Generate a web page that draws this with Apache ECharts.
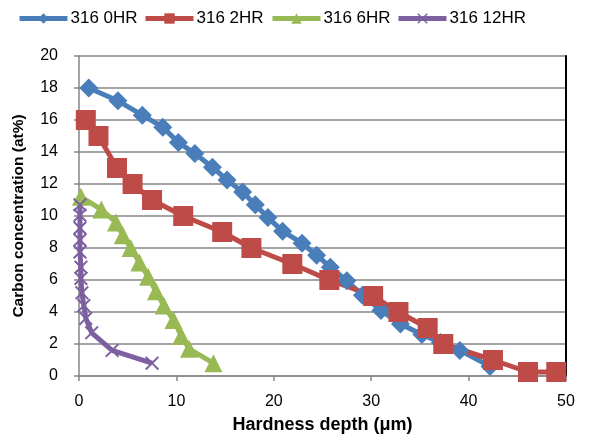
<!DOCTYPE html>
<html>
<head>
<meta charset="utf-8">
<script src="https://cdn.jsdelivr.net/npm/echarts@6/dist/echarts.min.js"></script>
<style>
  html, body { margin: 0; padding: 0; background: #ffffff; }
  #chart { width: 592px; height: 437px; }
</style>
</head>
<body>
<div id="chart"></div>
<script>
// Carbon concentration profiles of 316 steel after different treatment times
const seriesNames = ['316 0HR', '316 2HR', '316 6HR', '316 12HR'];

const depth0 = [1.0, 4.0, 6.5, 8.6, 10.2, 11.9, 13.7, 15.2, 16.8, 18.1, 19.4, 20.9, 22.9, 24.4, 25.8, 27.5, 29.1, 31.0, 33.0, 35.2, 37.1, 39.1, 42.2];
const carbon0 = [18.0, 17.2, 16.3, 15.55, 14.6, 13.9, 13.05, 12.25, 11.5, 10.7, 9.9, 9.05, 8.3, 7.55, 6.8, 5.95, 5.05, 4.1, 3.25, 2.6, 2.1, 1.6, 0.6];

const depth2 = [0.7, 2.0, 3.9, 5.5, 7.5, 10.7, 14.7, 17.7, 21.9, 25.7, 30.2, 32.8, 35.8, 37.4, 42.5, 46.1, 49.0];
const carbon2 = [16, 15, 13, 12, 11, 10, 9, 8, 7, 6, 5, 4, 3, 2, 1, 0.25, 0.25];

const depth6 = [0.2, 2.3, 3.8, 4.5, 5.3, 6.2, 7.1, 7.9, 8.7, 9.7, 10.5, 11.3, 13.8];
const carbon6 = [11.2, 10.4, 9.6, 8.8, 8.0, 7.1, 6.2, 5.3, 4.4, 3.5, 2.5, 1.7, 0.8];

const depth12 = [0.1, 0.1, 0.1, 0.1, 0.1, 0.2, 0.2, 0.3, 0.5, 0.7, 1.3, 3.4, 7.5];
const carbon12 = [10.7, 10.05, 9.25, 8.5, 7.75, 6.8, 6.1, 5.2, 4.4, 3.6, 2.7, 1.6, 0.8];

const xTicks = [0, 10, 20, 30, 40, 50];
const yTicks = [0, 2, 4, 6, 8, 10, 12, 14, 16, 18, 20];

const colors = ['#4A7EBB', '#BE4B48', '#98B954', '#7D60A0'];
const crossPath = 'path://M0,1 L1,0 L5,4 L9,0 L10,1 L6,5 L10,9 L9,10 L5,6 L1,10 L0,9 L4,5 Z';
const legendLeft = [17, 143, 270, 396];

const pairs = (xs, ys) => xs.map((x, i) => [x, ys[i]]);
const font = '"Liberation Sans", Arial, sans-serif';

const makeSeries = (name, data, color, symbol, size) => ({
  name: name,
  type: 'line',
  data: data,
  symbol: symbol,
  symbolSize: size,
  showAllSymbol: true,
  animation: false,
  lineStyle: { color: color, width: 5 },
  itemStyle: { color: color, borderWidth: 0 },
  emphasis: { disabled: true }
});

// one legend block per series so each entry sits at its own spot
const legends = seriesNames.map((name, i) => ({
  top: 10,
  left: legendLeft[i],
  padding: 0,
  itemWidth: 48,
  itemHeight: 13,
  lineStyle: { width: 5 },
  textStyle: { fontFamily: font, fontSize: 17, color: '#000', padding: [0, 0, 0, -2] },
  data: [name]
}));

const chart = echarts.init(document.getElementById('chart'), null, { renderer: 'canvas' });
chart.setOption({
  animation: false,
  color: colors,
  legend: legends,
  grid: { left: 79, right: 26, top: 56, bottom: 61, outerBoundsMode: 'none' },
  xAxis: {
    type: 'value',
    min: xTicks[0],
    max: xTicks[xTicks.length - 1],
    interval: 10,
    name: 'Hardness depth (\u03bcm)',
    nameLocation: 'middle',
    nameGap: 40,
    nameTextStyle: { fontFamily: font, fontSize: 18, fontWeight: 'bold', color: '#000' },
    axisLine: { lineStyle: { color: '#868686', width: 1.5 } },
    axisTick: { show: true, inside: false, length: 5, lineStyle: { color: '#868686', width: 1.5 } },
    axisLabel: { fontFamily: font, fontSize: 16, color: '#000', margin: 18 },
    splitLine: { show: false }
  },
  yAxis: [{
    type: 'value',
    min: yTicks[0],
    max: yTicks[yTicks.length - 1],
    interval: 2,
    name: 'Carbon concentration (at%)',
    nameLocation: 'middle',
    nameGap: 52,
    nameTextStyle: { fontFamily: font, fontSize: 15.5, fontWeight: 'bold', color: '#000' },
    axisLine: { show: true, lineStyle: { color: '#868686', width: 1.5 } },
    axisTick: { show: true, inside: false, length: 5, lineStyle: { color: '#868686', width: 1.5 } },
    axisLabel: { fontFamily: font, fontSize: 16, color: '#000', margin: 21 },
    splitLine: { show: true, lineStyle: { color: '#868686', width: 1.5 } }
  }, {
    type: 'value',
    position: 'right',
    min: 0,
    max: 20,
    interval: 2,
    axisLine: { show: true, lineStyle: { color: '#000', width: 2 } },
    axisTick: { show: false },
    axisLabel: { show: false },
    splitLine: { show: false }
  }],
  series: [
    makeSeries(seriesNames[0], pairs(depth0, carbon0), colors[0], 'diamond', 19),
    makeSeries(seriesNames[1], pairs(depth2, carbon2), colors[1], 'rect', 20),
    makeSeries(seriesNames[2], pairs(depth6, carbon6), colors[2], 'triangle', 18),
    makeSeries(seriesNames[3], pairs(depth12, carbon12), colors[3], crossPath, 14)
  ]
});
</script>
</body>
</html>
